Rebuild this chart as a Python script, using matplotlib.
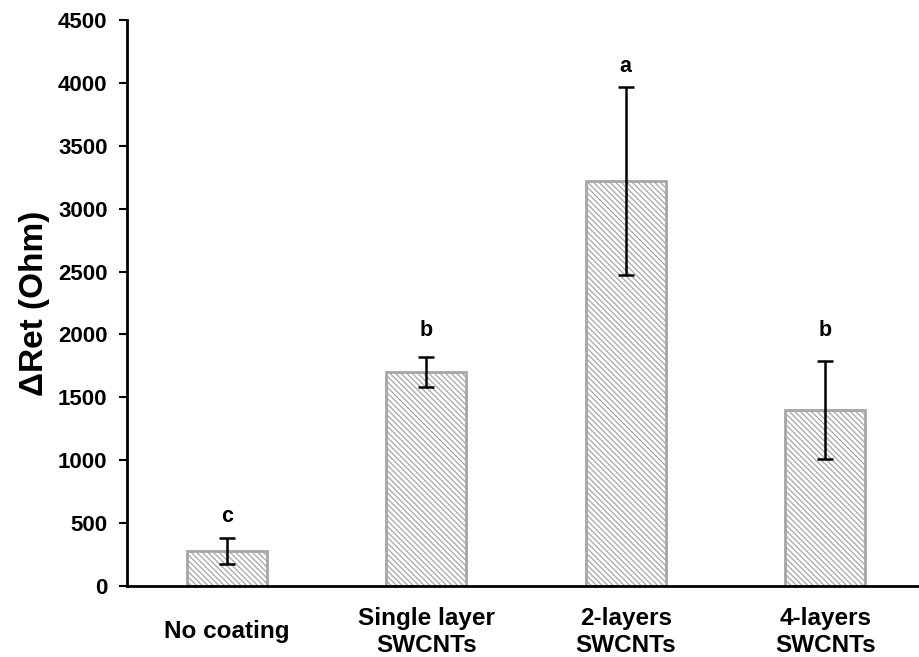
import matplotlib
matplotlib.use("Agg")
import matplotlib.pyplot as plt
import numpy as np

# data
categories = ["No coating", "Single layer\nSWCNTs", "2-layers\nSWCNTs", "4-layers\nSWCNTs"]
values = [280, 1700, 3220, 1400]
errors = [105, 120, 750, 390]
letters = ["c", "b", "a", "b"]
letter_y = [550, 2030, 4130, 2030]

plt.rcParams["font.family"] = ["Liberation Sans", "DejaVu Sans"]
plt.rcParams["font.weight"] = "bold"
plt.rcParams["hatch.color"] = "#a6a6a6"
plt.rcParams["hatch.linewidth"] = 0.9

fig = plt.figure(figsize=(9.19, 6.57), dpi=100)
ax = fig.add_axes([127 / 919, 71 / 657, 798 / 919, 566 / 657])

x = np.arange(len(categories))
ax.bar(x, values, width=0.4, color="white", edgecolor="#a6a6a6", linewidth=2,
       hatch="\\" * 6)
ax.errorbar(x, values, yerr=errors, fmt="none", ecolor="black", elinewidth=1.8,
            capsize=6, capthick=1.8)

for xi, lab, ly in zip(x, letters, letter_y):
    ax.text(xi, ly, lab, ha="center", va="center", fontsize=15.5, fontweight="bold")

ax.set_xlim(-0.5, 3.5)
ax.set_ylim(0, 4500)
ax.set_yticks(np.arange(0, 4501, 500))
ax.set_xticks(x)
ax.set_xticklabels(categories, fontsize=17.5, fontweight="bold", linespacing=1.22)
ax.tick_params(axis="x", length=0)
ax.tick_params(axis="y", length=6, width=1.5, labelsize=16, pad=8, direction="out")
for lbl in ax.get_xticklabels():
    lbl.set_verticalalignment("center")
    lbl.set_y(-0.072)

ax.spines["top"].set_visible(False)
ax.spines["right"].set_visible(False)
ax.spines["left"].set_linewidth(2)
ax.spines["bottom"].set_linewidth(2)

ax.set_ylabel("ΔRet (Ohm)", fontsize=24, fontweight="bold", labelpad=6)

fig.savefig("out.png", dpi=100)
